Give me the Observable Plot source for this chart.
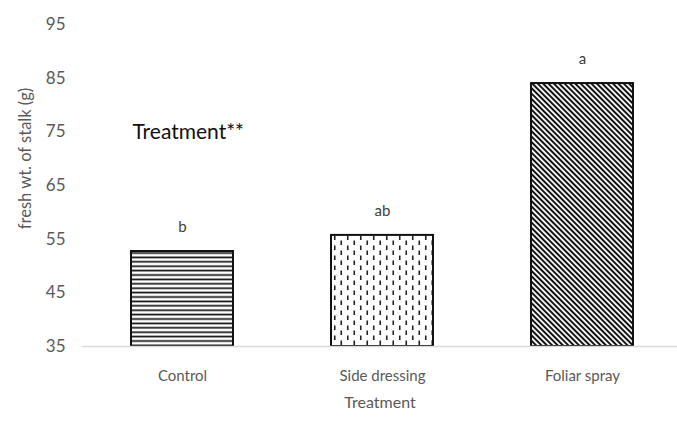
<!DOCTYPE html>
<html>
<head>
<meta charset="utf-8">
<script src="https://cdn.jsdelivr.net/npm/d3@7"></script>
<script src="https://cdn.jsdelivr.net/npm/@observablehq/plot@0.6"></script>
<style>
  html, body { margin: 0; padding: 0; background: #fff; }
  #chart svg { display: block; }
</style>
</head>
<body>
<div id="chart"></div>
<script>
// Fresh weight of stalk by fertiliser treatment
const treatments = ["Control", "Side dressing", "Foliar spray"];
const freshWeight = [52.7, 55.7, 84.0];
const groupLetters = ["b", "ab", "a"];
const yTicks = [35, 45, 55, 65, 75, 85, 95];

const data = treatments.map((t, i) => ({treatment: t, weight: freshWeight[i], letter: groupLetters[i]}));

// Each treatment gets its own hatch fill
const hatchFor = {
  "Control": "url(#hatch-horizontal)",
  "Side dressing": "url(#hatch-dashes)",
  "Foliar spray": "url(#hatch-diagonal)"
};

const font = "Lato, 'Open Sans', sans-serif";
const grey = "#595959";

const chart = Plot.plot({
  width: 677,
  height: 423,
  marginLeft: 82,
  marginRight: 0,
  marginTop: 24,
  marginBottom: 77,
  style: {fontFamily: font, fontSize: "15px", color: grey, background: "#fff"},
  x: {domain: treatments, range: [82, 682], paddingInner: 0.49, paddingOuter: 0.245, label: null},
  y: {domain: [35, 95], label: null},
  color: {type: "identity"},
  marks: [
    Plot.axisY({ticks: yTicks, tickSize: 0, tickPadding: 17, fontSize: 17, label: null}),
    Plot.axisX({tickSize: 0, tickPadding: 24, fontSize: 15, label: null}),
    Plot.barY(data, {x: "treatment", y1: 35, y2: "weight", fill: d => hatchFor[d.treatment], stroke: "#111", strokeWidth: 2}),
    Plot.ruleY([35], {stroke: "#d9d9d9", strokeWidth: 1.5}),
    Plot.text(data, {x: "treatment", y: "weight", text: "letter", dy: -24, fontSize: 15, fill: "#404040"}),
    Plot.text(["Treatment**"], {x: () => "Control", y: () => 75, text: d => d, textAnchor: "start", dx: -50, fontSize: 21, fill: "#111"}),
    Plot.text(["fresh wt. of stalk (g)"], {frameAnchor: "left", textAnchor: "middle", text: d => d, rotate: -90, dx: -57, dy: -27, fontSize: 16.5, fill: grey}),
    Plot.text(["Treatment"], {frameAnchor: "bottom", text: d => d, dy: 61, fontSize: 16, fill: grey})
  ]
});

// Hatch pattern definitions referenced by the bars
const defs = d3.create("svg:defs");
const h = defs.append("pattern").attr("id", "hatch-horizontal")
  .attr("patternUnits", "userSpaceOnUse").attr("width", 8).attr("height", 4.4);
h.append("rect").attr("width", 8).attr("height", 4.4).attr("fill", "#fff");
h.append("line").attr("x1", 0).attr("x2", 8).attr("y1", 2.2).attr("y2", 2.2)
  .attr("stroke", "#111").attr("stroke-width", 1.7);

const v = defs.append("pattern").attr("id", "hatch-dashes")
  .attr("patternUnits", "userSpaceOnUse").attr("width", 13).attr("height", 10);
v.append("rect").attr("width", 13).attr("height", 10).attr("fill", "#fff");
v.append("line").attr("x1", 3.25).attr("x2", 3.25).attr("y1", 0.5).attr("y2", 5)
  .attr("stroke", "#222").attr("stroke-width", 1.6);
v.append("line").attr("x1", 9.75).attr("x2", 9.75).attr("y1", 5.5).attr("y2", 10)
  .attr("stroke", "#222").attr("stroke-width", 1.6);

const g = defs.append("pattern").attr("id", "hatch-diagonal")
  .attr("patternUnits", "userSpaceOnUse").attr("width", 8).attr("height", 3.8)
  .attr("patternTransform", "rotate(45)");
g.append("rect").attr("width", 8).attr("height", 3.8).attr("fill", "#fff");
g.append("line").attr("x1", 0).attr("x2", 8).attr("y1", 1.9).attr("y2", 1.9)
  .attr("stroke", "#111").attr("stroke-width", 2);

chart.insertBefore(defs.node(), chart.firstChild);
document.getElementById("chart").append(chart);
</script>
</body>
</html>
